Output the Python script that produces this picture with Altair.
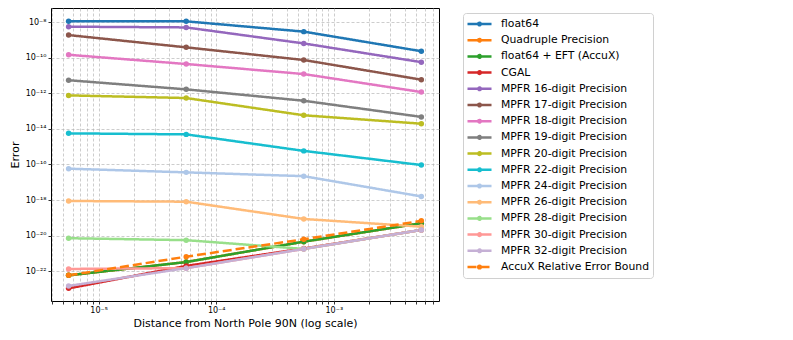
import altair as alt
import pandas as pd

# ---- data ----
distances = [5.556e-6, 5.556e-5, 5.556e-4, 5.556e-3]

series_names = [
    "float64", "Quadruple Precision", "float64 + EFT (AccuX)", "CGAL",
    "MPFR 16-digit Precision", "MPFR 17-digit Precision", "MPFR 18-digit Precision",
    "MPFR 19-digit Precision", "MPFR 20-digit Precision", "MPFR 22-digit Precision",
    "MPFR 24-digit Precision", "MPFR 26-digit Precision", "MPFR 28-digit Precision",
    "MPFR 30-digit Precision", "MPFR 32-digit Precision", "AccuX Relative Error Bound",
]

err_float64 = [1.10e-8, 1.10e-8, 2.9e-9, 2.3e-10]
err_quad = [5.9e-23, 3.3e-22, 4.6e-21, 5.0e-20]
err_eft = [5.9e-23, 3.3e-22, 4.6e-21, 5.0e-20]
err_cgal = [1.1e-23, 2.0e-22, 1.9e-21, 2.1e-20]
err_mpfr16 = [5.5e-9, 5.0e-9, 6.3e-10, 5.6e-11]
err_mpfr17 = [1.86e-9, 3.8e-10, 7.4e-11, 5.8e-12]
err_mpfr18 = [1.45e-10, 4.4e-11, 1.2e-11, 1.17e-12]
err_mpfr19 = [5.4e-12, 1.66e-12, 3.8e-13, 4.7e-14]
err_mpfr20 = [7.6e-13, 5.4e-13, 5.8e-14, 1.95e-14]
err_mpfr22 = [5.6e-15, 4.9e-15, 5.8e-16, 9.3e-17]
err_mpfr24 = [5.8e-17, 3.6e-17, 2.2e-17, 1.6e-18]
err_mpfr26 = [8.9e-19, 8.1e-19, 8.7e-20, 3.2e-20]
err_mpfr28 = [7.2e-21, 5.6e-21, 1.8e-21, 2.1e-20]
err_mpfr30 = [1.35e-22, 1.5e-22, 1.8e-21, 2.1e-20]
err_mpfr32 = [1.5e-23, 1.5e-22, 1.8e-21, 2.1e-20]
err_bound = [5.9e-23, 6.6e-22, 6.3e-21, 6.8e-20]

all_errors = [
    err_float64, err_quad, err_eft, err_cgal, err_mpfr16, err_mpfr17, err_mpfr18,
    err_mpfr19, err_mpfr20, err_mpfr22, err_mpfr24, err_mpfr26, err_mpfr28,
    err_mpfr30, err_mpfr32, err_bound,
]

colors = [
    "#1f77b4", "#ff7f0e", "#2ca02c", "#d62728", "#9467bd", "#8c564b", "#e377c2",
    "#7f7f7f", "#bcbd22", "#17becf", "#aec7e8", "#ffbb78", "#98df8a", "#ff9896",
    "#c5b0d5", "#ff7f0e",
]
dashes = [[1, 0]] * 15 + [[9, 4]]

y_tick_exps = [-22, -20, -18, -16, -14, -12, -10, -8]
y_tick_labels = ["10⁻²²", "10⁻²⁰", "10⁻¹⁸", "10⁻¹⁶", "10⁻¹⁴", "10⁻¹²", "10⁻¹⁰", "10⁻⁸"]
x_tick_exps = [-5, -4, -3]
x_tick_labels = ["10⁻⁵", "10⁻⁴", "10⁻³"]

rows = []
for i, (name, errs) in enumerate(zip(series_names, all_errors)):
    for d, e in zip(distances, errs):
        rows.append({"series": name, "k": i, "dist": d, "err": e})
df = pd.DataFrame(rows)

# minor grid positions for the log x axis
x_grid = []
for p in range(-6, -2):
    for m in range(1, 10):
        v = m * 10.0 ** p
        if 10 ** -5.405 <= v <= 10 ** -2.105:
            x_grid.append(v)


def label_expr(exps, labels, minor=False):
    e = "round(log(datum.value)/LN10)"
    expr = "''"
    for ex, lab in zip(exps, labels):
        expr = f"({e} == {ex} ? '{lab}' : {expr})"
    if minor:
        expr = f"(abs(log(datum.value)/LN10 - {e}) < 0.001 ? {expr} : '')"
    return expr


x_enc = alt.X(
    "dist:Q",
    scale=alt.Scale(type="log", domain=[10 ** -5.405, 10 ** -2.105], nice=False),
    axis=alt.Axis(
        title="Distance from North Pole 90N (log scale)",
        values=x_grid,
        labelExpr=label_expr(x_tick_exps, x_tick_labels, minor=True),
        titlePadding=3,
    ),
)
y_enc = alt.Y(
    "err:Q",
    scale=alt.Scale(type="log", domain=[10 ** -23.67, 10 ** -7.21], nice=False),
    axis=alt.Axis(
        title="Error",
        values=[10.0 ** e for e in y_tick_exps],
        labelExpr=label_expr(y_tick_exps, y_tick_labels),
        titlePadding=5,
    ),
)

legend_symbol = "M-1,0L1,0M-0.11,0A0.11,0.11,0,1,1,0.11,0A0.11,0.11,0,1,1,-0.11,0Z"


def make_legend():
    return alt.Legend(
        title=None, orient="none", legendX=412, legendY=5,
        symbolType=legend_symbol, symbolSize=576, symbolStrokeWidth=2.5,
        labelFontSize=10.8, labelFont="DejaVu Sans", labelLimit=0, labelOffset=8,
        clipHeight=16, rowPadding=0.2, padding=3, strokeColor="#d0d0d0",
        fillColor="white", cornerRadius=3,
    )


color_enc = alt.Color(
    "series:N",
    sort=series_names,
    scale=alt.Scale(domain=series_names, range=colors),
    legend=make_legend(),
)
dash_enc = alt.StrokeDash(
    "series:N",
    sort=series_names,
    scale=alt.Scale(domain=series_names, range=dashes),
    legend=make_legend(),
)

lines = alt.Chart(df).mark_line(strokeWidth=2.5, clip=True).encode(
    x=x_enc, y=y_enc, color=color_enc, strokeDash=dash_enc, detail="k:N"
)
points = alt.Chart(df).mark_circle(size=30, opacity=1, clip=True).encode(
    x=x_enc, y=y_enc,
    color=alt.Color("series:N", sort=series_names,
                    scale=alt.Scale(domain=series_names, range=colors), legend=None),
    order="k:Q",
)

chart = (
    alt.layer(lines, points)
    .properties(
        width=388, height=293,
        autosize=alt.AutoSizeParams(type="none"),
        padding={"left": 43, "top": 0, "right": 346, "bottom": 31},
    )
    .configure_view(stroke="black", strokeWidth=1)
    .configure_axis(
        domain=False,
        grid=True, gridColor="#b0b0b0", gridDash=[3, 2], gridWidth=0.8, gridOpacity=0.8,
        tickColor="black", tickSize=3, tickWidth=0.8,
        labelFont="DejaVu Sans", labelFontSize=8, labelColor="black",
        titleFont="DejaVu Sans", titleFontSize=11, titleFontWeight="normal", titleColor="black",
        labelPadding=2,
    )
)

chart.save("out.html", embed_options={"renderer": "svg", "actions": False})
